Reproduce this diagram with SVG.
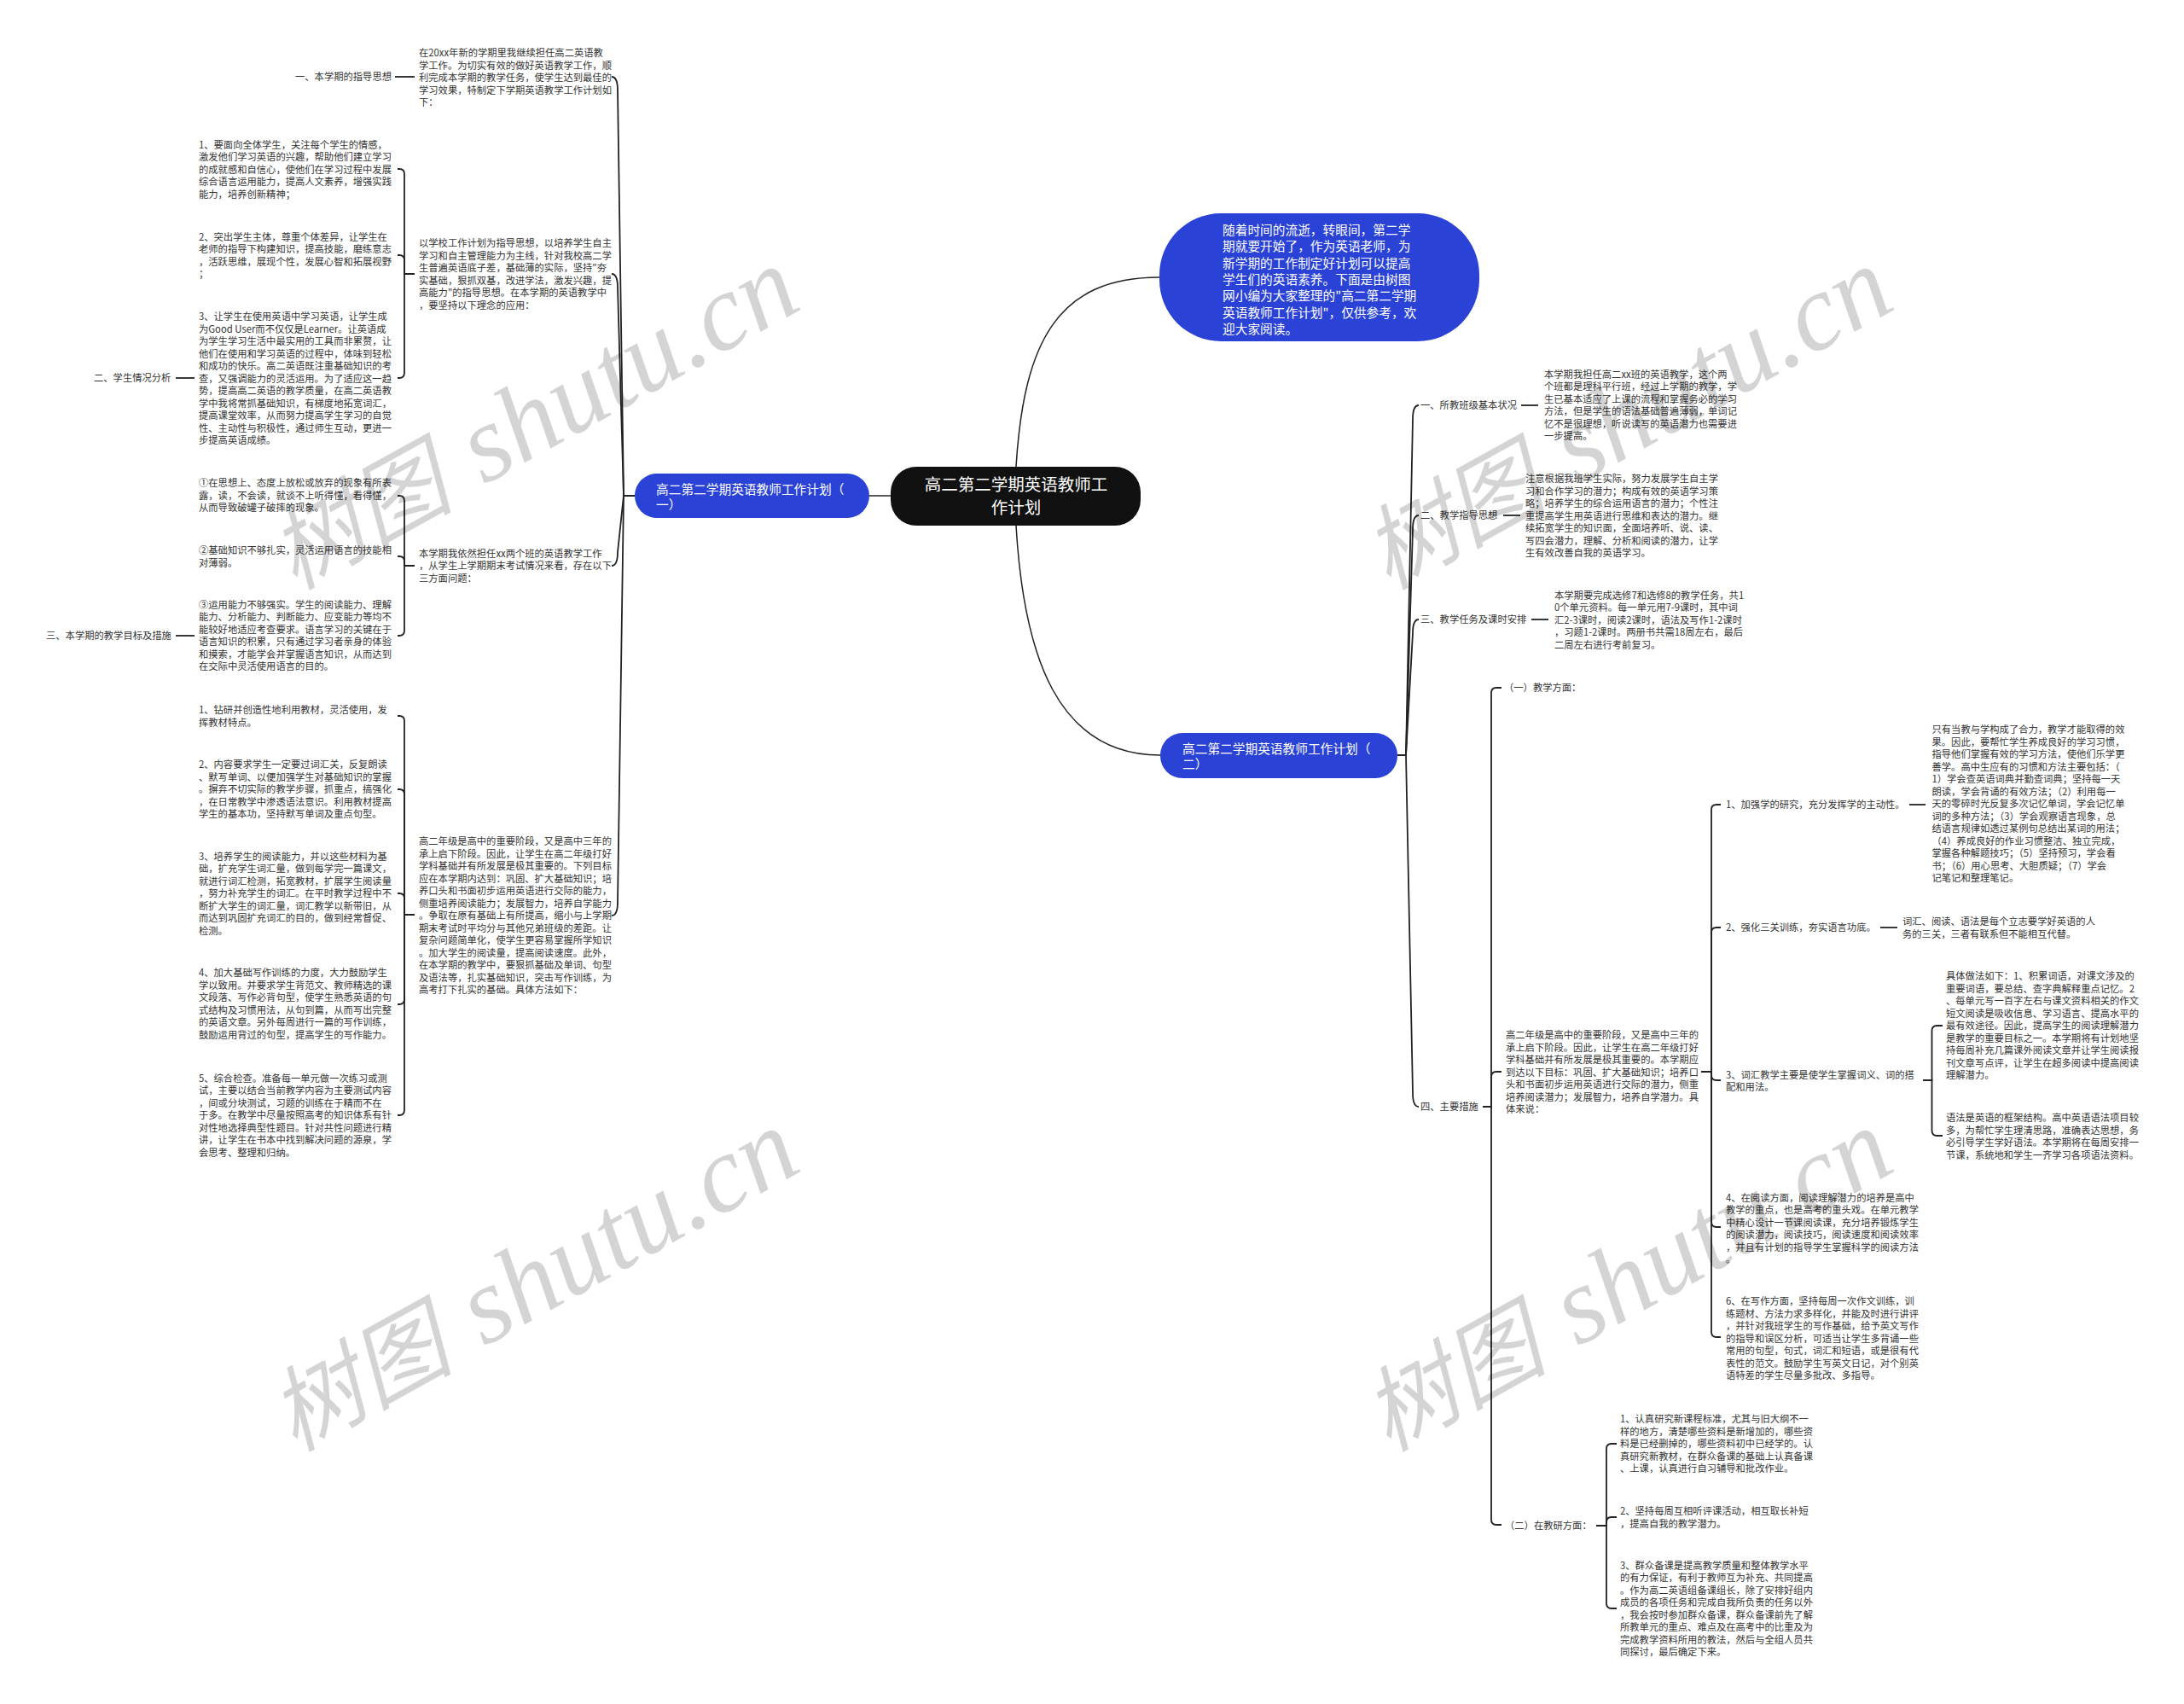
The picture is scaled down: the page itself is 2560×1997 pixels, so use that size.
<svg xmlns="http://www.w3.org/2000/svg" width="2560" height="1997" viewBox="0 0 2560 1997">
<style>
.t{font-family:'Noto Sans CJK SC','Noto Sans',sans-serif;font-size:11.3px;fill:#333}
.n{font-family:'Noto Sans CJK SC','Noto Sans',sans-serif;font-size:14.7px;fill:#fff}
.r{font-family:'Noto Sans CJK SC','Noto Sans',sans-serif;font-size:19.5px;fill:#fff;text-anchor:middle}
.c{fill:none;stroke:#222;stroke-width:1.8}
.rc{fill:none;stroke:#222;stroke-width:1.5}
.blue{fill:#2a43d6}
.wm{font-family:'Liberation Serif','Noto Sans CJK SC',serif;font-style:italic;fill:#000;fill-opacity:.17}
</style>
<rect width="2560" height="1997" fill="#fff"/>
<g id="connectors">
<path class="rc" d="M1044,581H1019" stroke="#555"/>
<path class="rc" d="M1191,547C1200,400 1240,325 1359,325"/>
<path class="rc" d="M1191,616C1200,770 1240,885 1360,885"/>
<path class="c" d="M744,581H731L724,106Q724,90 717,90"/>
<path class="c" d="M744,581H731L724,337Q724,321 717,321"/>
<path class="c" d="M744,581H731L724,647Q724,663 717,663"/>
<path class="c" d="M744,581H731L724,1057Q724,1073 717,1073"/>
<path class="c" d="M463,90H486"/>
<path class="c" d="M486,321H474V204Q474,198 468,198H466"/>
<path class="c" d="M486,321H474V305Q474,299 468,299H466"/>
<path class="c" d="M486,321H474V437Q474,443 468,443H466"/>
<path class="c" d="M206,443H228"/>
<path class="c" d="M486,663H474V587Q474,581 468,581H466"/>
<path class="c" d="M486,663H474V658Q474,652 468,652H466"/>
<path class="c" d="M486,663H474V739Q474,745 468,745H466"/>
<path class="c" d="M206,745H228"/>
<path class="c" d="M486,1072H474V845Q474,839 468,839H466"/>
<path class="c" d="M486,1072H474V931Q474,925 468,925H466"/>
<path class="c" d="M486,1072H474V1053Q474,1047 468,1047H466"/>
<path class="c" d="M486,1072H474V1171Q474,1177 468,1177H466"/>
<path class="c" d="M486,1072H474V1301Q474,1307 468,1307H466"/>
<path class="c" d="M1638,885H1648L1656,491Q1656,475 1663,475"/>
<path class="c" d="M1638,885H1648L1656,620Q1656,604 1663,604"/>
<path class="c" d="M1638,885H1648L1656,742Q1656,726 1663,726"/>
<path class="c" d="M1638,885H1648L1656,1281Q1656,1297 1663,1297"/>
<path class="c" d="M1783,475H1803"/>
<path class="c" d="M1762,604H1782"/>
<path class="c" d="M1795,726H1815"/>
<path class="c" d="M1738,1297H1748V812Q1748,806 1754,806H1760"/>
<path class="c" d="M1738,1297H1748V1262Q1748,1256 1754,1256H1760"/>
<path class="c" d="M1738,1297H1748V1781Q1748,1787 1754,1787H1760"/>
<path class="c" d="M1994,1256H2006V949Q2006,943 2012,943H2017"/>
<path class="c" d="M1994,1256H2006V1093Q2006,1087 2012,1087H2017"/>
<path class="c" d="M1994,1256H2006V1260Q2006,1266 2012,1266H2017"/>
<path class="c" d="M1994,1256H2006V1432Q2006,1438 2012,1438H2017"/>
<path class="c" d="M1994,1256H2006V1561Q2006,1567 2012,1567H2017"/>
<path class="c" d="M2238,943H2257"/>
<path class="c" d="M2204,1087H2224"/>
<path class="c" d="M2254,1266H2264.5V1208Q2264.5,1202 2270.5,1202H2277"/>
<path class="c" d="M2254,1266H2264.5V1325Q2264.5,1331 2270.5,1331H2277"/>
<path class="c" d="M1871,1788H1883V1698Q1883,1692 1889,1692H1895"/>
<path class="c" d="M1871,1788H1883V1784Q1883,1778 1889,1778H1895"/>
<path class="c" d="M1871,1788H1883V1879Q1883,1885 1889,1885H1895"/>
</g>
<g id="root">
<rect x="1044" y="547" width="293" height="69" rx="30" fill="#111"/>
<text class="r" x="1191" y="575.4">高二第二学期英语教师工<tspan x="1191" dy="27">作计划</tspan></text>
</g>
<g id="intro">
<rect class="blue" x="1359" y="250" width="375" height="150" rx="72"/>
<text class="n" x="1433" y="275">随着时间的流逝，转眼间，第二学<tspan x="1433" dy="19.3">期就要开始了，作为英语老师，为</tspan><tspan x="1433" dy="19.3">新学期的工作制定好计划可以提高</tspan><tspan x="1433" dy="19.3">学生们的英语素养。下面是由树图</tspan><tspan x="1433" dy="19.3">网小编为大家整理的"高二第二学期</tspan><tspan x="1433" dy="19.3">英语教师工作计划"，仅供参考，欢</tspan><tspan x="1433" dy="19.3">迎大家阅读。</tspan></text>
</g>
<g id="plan1">
<rect class="blue" x="744" y="555" width="275" height="52" rx="26"/>
<text class="n" x="769" y="578.6">高二第二学期英语教师工作计划（<tspan x="769" dy="18">一）</tspan></text>
</g>
<g id="plan2">
<rect class="blue" x="1360" y="859" width="278" height="53" rx="26"/>
<text class="n" x="1386" y="882.6">高二第二学期英语教师工作计划（<tspan x="1386" dy="18">二）</tspan></text>
</g>
<g id="l-a">
<text class="t" x="491" y="66">在20xx年新的学期里我继续担任高二英语教<tspan x="491" dy="14.5">学工作。为切实有效的做好英语教学工作，顺</tspan><tspan x="491" dy="14.5">利完成本学期的教学任务，使学生达到最佳的</tspan><tspan x="491" dy="14.5">学习效果，特制定下学期英语教学工作计划如</tspan><tspan x="491" dy="14.5">下：</tspan></text>
</g>
<g id="l-guide"><text class="t" x="346" y="94.3">一、本学期的指导思想</text></g>
<g id="l-e">
<text class="t" x="491" y="289.3">以学校工作计划为指导思想，以培养学生自主<tspan x="491" dy="14.5">学习和自主管理能力为主线，针对我校高二学</tspan><tspan x="491" dy="14.5">生普遍英语底子差，基础薄的实际，坚持"夯</tspan><tspan x="491" dy="14.5">实基础，狠抓双基，改进学法，激发兴趣，提</tspan><tspan x="491" dy="14.5">高能力"的指导思想。在本学期的英语教学中</tspan><tspan x="491" dy="14.5">，要坚持以下理念的应用：</tspan></text>
</g>
<g id="l-c1">
<text class="t" x="233" y="173.6">1、要面向全体学生，关注每个学生的情感，<tspan x="233" dy="14.5">激发他们学习英语的兴趣，帮助他们建立学习</tspan><tspan x="233" dy="14.5">的成就感和自信心，使他们在学习过程中发展</tspan><tspan x="233" dy="14.5">综合语言运用能力，提高人文素养，增强实践</tspan><tspan x="233" dy="14.5">能力，培养创新精神；</tspan></text>
</g>
<g id="l-c2">
<text class="t" x="233" y="281.6">2、突出学生主体，尊重个体差异，让学生在<tspan x="233" dy="14.5">老师的指导下构建知识，提高技能，磨练意志</tspan><tspan x="233" dy="14.5">，活跃思维，展现个性，发展心智和拓展视野</tspan><tspan x="233" dy="14.5">；</tspan></text>
</g>
<g id="l-c3">
<text class="t" x="233" y="375.3">3、让学生在使用英语中学习英语，让学生成<tspan x="233" dy="14.5">为Good User而不仅仅是Learner。让英语成</tspan><tspan x="233" dy="14.5">为学生学习生活中最实用的工具而非累赘，让</tspan><tspan x="233" dy="14.5">他们在使用和学习英语的过程中，体味到轻松</tspan><tspan x="233" dy="14.5">和成功的快乐。高二英语既注重基础知识的考</tspan><tspan x="233" dy="14.5">查，又强调能力的灵活运用。为了适应这一趋</tspan><tspan x="233" dy="14.5">势，提高高二英语的教学质量，在高二英语教</tspan><tspan x="233" dy="14.5">学中我将常抓基础知识，有梯度地拓宽词汇，</tspan><tspan x="233" dy="14.5">提高课堂效率，从而努力提高学生学习的自觉</tspan><tspan x="233" dy="14.5">性、主动性与积极性，通过师生互动，更进一</tspan><tspan x="233" dy="14.5">步提高英语成绩。</tspan></text>
</g>
<g id="l-analysis"><text class="t" x="110" y="447.3">二、学生情况分析</text></g>
<g id="l-i">
<text class="t" x="491" y="652.6">本学期我依然担任xx两个班的英语教学工作<tspan x="491" dy="14.5">，从学生上学期期末考试情况来看，存在以下</tspan><tspan x="491" dy="14.5">三方面问题：</tspan></text>
</g>
<g id="l-p1">
<text class="t" x="233" y="570.3">①在思想上、态度上放松或放弃的现象有所表<tspan x="233" dy="14.5">露，读，不会读，就谈不上听得懂，看得懂，</tspan><tspan x="233" dy="14.5">从而导致破罐子破摔的现象。</tspan></text>
</g>
<g id="l-p2">
<text class="t" x="233" y="649.3">②基础知识不够扎实，灵活运用语言的技能相<tspan x="233" dy="14.5">对薄弱。</tspan></text>
</g>
<g id="l-p3">
<text class="t" x="233" y="712.8">③运用能力不够强实。学生的阅读能力、理解<tspan x="233" dy="14.5">能力、分析能力、判断能力、应变能力等均不</tspan><tspan x="233" dy="14.5">能较好地适应考查要求。语言学习的关键在于</tspan><tspan x="233" dy="14.5">语言知识的积累，只有通过学习者亲身的体验</tspan><tspan x="233" dy="14.5">和摸索，才能学会并掌握语言知识，从而达到</tspan><tspan x="233" dy="14.5">在交际中灵活使用语言的目的。</tspan></text>
</g>
<g id="l-goals"><text class="t" x="54" y="749.3">三、本学期的教学目标及措施</text></g>
<g id="l-l">
<text class="t" x="491" y="990.3">高二年级是高中的重要阶段，又是高中三年的<tspan x="491" dy="14.5">承上启下阶段。因此，让学生在高二年级打好</tspan><tspan x="491" dy="14.5">学科基础并有所发展是极其重要的。下列目标</tspan><tspan x="491" dy="14.5">应在本学期内达到：巩固、扩大基础知识；培</tspan><tspan x="491" dy="14.5">养口头和书面初步运用英语进行交际的能力，</tspan><tspan x="491" dy="14.5">侧重培养阅读能力；发展智力，培养自学能力</tspan><tspan x="491" dy="14.5">。争取在原有基础上有所提高，缩小与上学期</tspan><tspan x="491" dy="14.5">期末考试时平均分与其他兄弟班级的差距。让</tspan><tspan x="491" dy="14.5">复杂问题简单化，使学生更容易掌握所学知识</tspan><tspan x="491" dy="14.5">。加大学生的阅读量，提高阅读速度。此外，</tspan><tspan x="491" dy="14.5">在本学期的教学中，要狠抓基础及单词、句型</tspan><tspan x="491" dy="14.5">及语法等，扎实基础知识，突击写作训练，为</tspan><tspan x="491" dy="14.5">高考打下扎实的基础。具体方法如下：</tspan></text>
</g>
<g id="l-k1">
<text class="t" x="233" y="836">1、钻研并创造性地利用教材，灵活使用，发<tspan x="233" dy="14.5">挥教材特点。</tspan></text>
</g>
<g id="l-k2">
<text class="t" x="233" y="900.3">2、内容要求学生一定要过词汇关，反复朗读<tspan x="233" dy="14.5">、默写单词、以便加强学生对基础知识的掌握</tspan><tspan x="233" dy="14.5">。摒弃不切实际的教学步骤，抓重点，搞强化</tspan><tspan x="233" dy="14.5">，在日常教学中渗透语法意识。利用教材提高</tspan><tspan x="233" dy="14.5">学生的基本功，坚持默写单词及重点句型。</tspan></text>
</g>
<g id="l-k3">
<text class="t" x="233" y="1007.6">3、培养学生的阅读能力，并以这些材料为基<tspan x="233" dy="14.5">础，扩充学生词汇量，做到每学完一篇课文，</tspan><tspan x="233" dy="14.5">就进行词汇检测，拓宽教材，扩展学生阅读量</tspan><tspan x="233" dy="14.5">，努力补充学生的词汇。在平时教学过程中不</tspan><tspan x="233" dy="14.5">断扩大学生的词汇量，词汇教学以新带旧，从</tspan><tspan x="233" dy="14.5">而达到巩固扩充词汇的目的，做到经常督促、</tspan><tspan x="233" dy="14.5">检测。</tspan></text>
</g>
<g id="l-k4">
<text class="t" x="233" y="1144.3">4、加大基础写作训练的力度，大力鼓励学生<tspan x="233" dy="14.5">学以致用。并要求学生背范文、教师精选的课</tspan><tspan x="233" dy="14.5">文段落、写作必背句型，使学生熟悉英语的句</tspan><tspan x="233" dy="14.5">式结构及习惯用法，从句到篇，从而写出完整</tspan><tspan x="233" dy="14.5">的英语文章。另外每周进行一篇的写作训练，</tspan><tspan x="233" dy="14.5">鼓励运用背过的句型，提高学生的写作能力。</tspan></text>
</g>
<g id="l-k5">
<text class="t" x="233" y="1267.6">5、综合检查。准备每一单元做一次练习或测<tspan x="233" dy="14.5">试，主要以结合当前教学内容为主要测试内容</tspan><tspan x="233" dy="14.5">，间或分块测试，习题的训练在于精而不在</tspan><tspan x="233" dy="14.5">于多。在教学中尽量按照高考的知识体系有针</tspan><tspan x="233" dy="14.5">对性地选择典型性题目。针对共性问题进行精</tspan><tspan x="233" dy="14.5">讲，让学生在书本中找到解决问题的源泉，学</tspan><tspan x="233" dy="14.5">会思考、整理和归纳。</tspan></text>
</g>
<g id="r-1"><text class="t" x="1665" y="479.3">一、所教班级基本状况</text></g>
<g id="r-1t">
<text class="t" x="1810" y="442.6">本学期我担任高二xx班的英语教学，这个两<tspan x="1810" dy="14.5">个班都是理科平行班，经过上学期的教学，学</tspan><tspan x="1810" dy="14.5">生已基本适应了上课的流程和掌握务必的学习</tspan><tspan x="1810" dy="14.5">方法，但是学生的语法基础普遍薄弱，单词记</tspan><tspan x="1810" dy="14.5">忆不是很理想，听说读写的英语潜力也需要进</tspan><tspan x="1810" dy="14.5">一步提高。</tspan></text>
</g>
<g id="r-2"><text class="t" x="1665" y="608.3">二、教学指导思想</text></g>
<g id="r-2t">
<text class="t" x="1788" y="565">注意根据我班学生实际，努力发展学生自主学<tspan x="1788" dy="14.5">习和合作学习的潜力；构成有效的英语学习策</tspan><tspan x="1788" dy="14.5">略；培养学生的综合运用语言的潜力；个性注</tspan><tspan x="1788" dy="14.5">重提高学生用英语进行思维和表达的潜力。继</tspan><tspan x="1788" dy="14.5">续拓宽学生的知识面，全面培养听、说、读、</tspan><tspan x="1788" dy="14.5">写四会潜力，理解、分析和阅读的潜力，让学</tspan><tspan x="1788" dy="14.5">生有效改善自我的英语学习。</tspan></text>
</g>
<g id="r-3"><text class="t" x="1665" y="730.3">三、教学任务及课时安排</text></g>
<g id="r-3t">
<text class="t" x="1822" y="701.6">本学期要完成选修7和选修8的教学任务，共1<tspan x="1822" dy="14.5">0个单元资料。每一单元用7-9课时，其中词</tspan><tspan x="1822" dy="14.5">汇2-3课时，阅读2课时，语法及写作1-2课时</tspan><tspan x="1822" dy="14.5">，习题1-2课时。两册书共需18周左右，最后</tspan><tspan x="1822" dy="14.5">二周左右进行考前复习。</tspan></text>
</g>
<g id="r-4"><text class="t" x="1665" y="1301.3">四、主要措施</text></g>
<g id="r-4a"><text class="t" x="1763" y="810.3">（一）教学方面：</text></g>
<g id="r-4t">
<text class="t" x="1765" y="1217">高二年级是高中的重要阶段，又是高中三年的<tspan x="1765" dy="14.5">承上启下阶段。因此，让学生在高二年级打好</tspan><tspan x="1765" dy="14.5">学科基础并有所发展是极其重要的。本学期应</tspan><tspan x="1765" dy="14.5">到达以下目标：巩固、扩大基础知识；培养口</tspan><tspan x="1765" dy="14.5">头和书面初步运用英语进行交际的潜力，侧重</tspan><tspan x="1765" dy="14.5">培养阅读潜力；发展智力，培养自学潜力。具</tspan><tspan x="1765" dy="14.5">体来说：</tspan></text>
</g>
<g id="r-m1"><text class="t" x="2023" y="947.3">1、加强学的研究，充分发挥学的主动性。</text></g>
<g id="r-m1t">
<text class="t" x="2264.5" y="859.3">只有当教与学构成了合力，教学才能取得的效<tspan x="2264.5" dy="14.5">果。因此，要帮忙学生养成良好的学习习惯，</tspan><tspan x="2264.5" dy="14.5">指导他们掌握有效的学习方法，使他们乐学更</tspan><tspan x="2264.5" dy="14.5">善学。高中生应有的习惯和方法主要包括：（</tspan><tspan x="2264.5" dy="14.5">1）学会查英语词典并勤查词典；坚持每一天</tspan><tspan x="2264.5" dy="14.5">朗读，学会背诵的有效方法；（2）利用每一</tspan><tspan x="2264.5" dy="14.5">天的零碎时光反复多次记忆单词，学会记忆单</tspan><tspan x="2264.5" dy="14.5">词的多种方法；（3）学会观察语言现象，总</tspan><tspan x="2264.5" dy="14.5">结语言规律如透过某例句总结出某词的用法；</tspan><tspan x="2264.5" dy="14.5">（4）养成良好的作业习惯整洁、独立完成，</tspan><tspan x="2264.5" dy="14.5">掌握各种解题技巧；（5）坚持预习，学会看</tspan><tspan x="2264.5" dy="14.5">书；（6）用心思考、大胆质疑；（7）学会</tspan><tspan x="2264.5" dy="14.5">记笔记和整理笔记。</tspan></text>
</g>
<g id="r-m2"><text class="t" x="2023" y="1091.3">2、强化三关训练，夯实语言功底。</text></g>
<g id="r-m2t">
<text class="t" x="2230" y="1084.3">词汇、阅读、语法是每个立志要学好英语的人<tspan x="2230" dy="14.5">务的三关，三者有联系但不能相互代替。</tspan></text>
</g>
<g id="r-m3">
<text class="t" x="2023" y="1263.6">3、词汇教学主要是使学生掌握词义、词的搭<tspan x="2023" dy="14.5">配和用法。</tspan></text>
</g>
<g id="r-m3a">
<text class="t" x="2281" y="1148.3">具体做法如下：1、积累词语，对课文涉及的<tspan x="2281" dy="14.5">重要词语，要总结、查字典解释重点记忆。2</tspan><tspan x="2281" dy="14.5">、每单元写一百字左右与课文资料相关的作文</tspan><tspan x="2281" dy="14.5">短文阅读是吸收信息、学习语言、提高水平的</tspan><tspan x="2281" dy="14.5">最有效途径。因此，提高学生的阅读理解潜力</tspan><tspan x="2281" dy="14.5">是教学的重要目标之一。本学期将有计划地坚</tspan><tspan x="2281" dy="14.5">持每周补充几篇课外阅读文章并让学生阅读报</tspan><tspan x="2281" dy="14.5">刊文章写点评，让学生在超多阅读中提高阅读</tspan><tspan x="2281" dy="14.5">理解潜力。</tspan></text>
</g>
<g id="r-m3b">
<text class="t" x="2281" y="1314.3">语法是英语的框架结构。高中英语语法项目较<tspan x="2281" dy="14.5">多，为帮忙学生理清思路，准确表达思想，务</tspan><tspan x="2281" dy="14.5">必引导学生学好语法。本学期将在每周安排一</tspan><tspan x="2281" dy="14.5">节课，系统地和学生一齐学习各项语法资料。</tspan></text>
</g>
<g id="r-m4">
<text class="t" x="2023" y="1407.6">4、在阅读方面，阅读理解潜力的培养是高中<tspan x="2023" dy="14.5">教学的重点，也是高考的重头戏。在单元教学</tspan><tspan x="2023" dy="14.5">中精心设计一节课阅读课，充分培养锻炼学生</tspan><tspan x="2023" dy="14.5">的阅读潜力，阅读技巧，阅读速度和阅读效率</tspan><tspan x="2023" dy="14.5">，并且有计划的指导学生掌握科学的阅读方法</tspan><tspan x="2023" dy="14.5">。</tspan></text>
</g>
<g id="r-m6">
<text class="t" x="2023" y="1529.3">6、在写作方面，坚持每周一次作文训练，训<tspan x="2023" dy="14.5">练题材、方法力求多样化，并能及时进行讲评</tspan><tspan x="2023" dy="14.5">，并针对我班学生的写作基础，给予英文写作</tspan><tspan x="2023" dy="14.5">的指导和误区分析，可适当让学生多背诵一些</tspan><tspan x="2023" dy="14.5">常用的句型，句式，词汇和短语，或是很有代</tspan><tspan x="2023" dy="14.5">表性的范文。鼓励学生写英文日记，对个别英</tspan><tspan x="2023" dy="14.5">语特差的学生尽量多批改、多指导。</tspan></text>
</g>
<g id="r-4b"><text class="t" x="1764" y="1792.3">（二）在教研方面：</text></g>
<g id="r-r1">
<text class="t" x="1899" y="1667">1、认真研究新课程标准，尤其与旧大纲不一<tspan x="1899" dy="14.5">样的地方，清楚哪些资料是新增加的，哪些资</tspan><tspan x="1899" dy="14.5">料是已经删掉的，哪些资料初中已经学的。认</tspan><tspan x="1899" dy="14.5">真研究新教材，在群众备课的基础上认真备课</tspan><tspan x="1899" dy="14.5">、上课，认真进行自习辅导和批改作业。</tspan></text>
</g>
<g id="r-r2">
<text class="t" x="1899" y="1775">2、坚持每周互相听评课活动，相互取长补短<tspan x="1899" dy="14.5">，提高自我的教学潜力。</tspan></text>
</g>
<g id="r-r3">
<text class="t" x="1899" y="1838.6">3、群众备课是提高教学质量和整体教学水平<tspan x="1899" dy="14.5">的有力保证，有利于教师互为补充、共同提高</tspan><tspan x="1899" dy="14.5">。作为高二英语组备课组长，除了安排好组内</tspan><tspan x="1899" dy="14.5">成员的各项任务和完成自我所负责的任务以外</tspan><tspan x="1899" dy="14.5">，我会按时参加群众备课，群众备课前先了解</tspan><tspan x="1899" dy="14.5">所教单元的重点、难点及在高考中的比重及为</tspan><tspan x="1899" dy="14.5">完成教学资料所用的教法，然后与全组人员共</tspan><tspan x="1899" dy="14.5">同探讨，最后确定下来。</tspan></text>
</g>
<g id="watermarks">
<text class="wm" transform="translate(345,692) rotate(-29)"><tspan font-size="108">树图</tspan><tspan font-size="128" dx="38">shutu.cn</tspan></text>
<text class="wm" transform="translate(1627,692) rotate(-29)"><tspan font-size="108">树图</tspan><tspan font-size="128" dx="38">shutu.cn</tspan></text>
<text class="wm" transform="translate(345,1702) rotate(-29)"><tspan font-size="108">树图</tspan><tspan font-size="128" dx="38">shutu.cn</tspan></text>
<text class="wm" transform="translate(1627,1702) rotate(-29)"><tspan font-size="108">树图</tspan><tspan font-size="128" dx="38">shutu.cn</tspan></text>
</g>
</svg>
